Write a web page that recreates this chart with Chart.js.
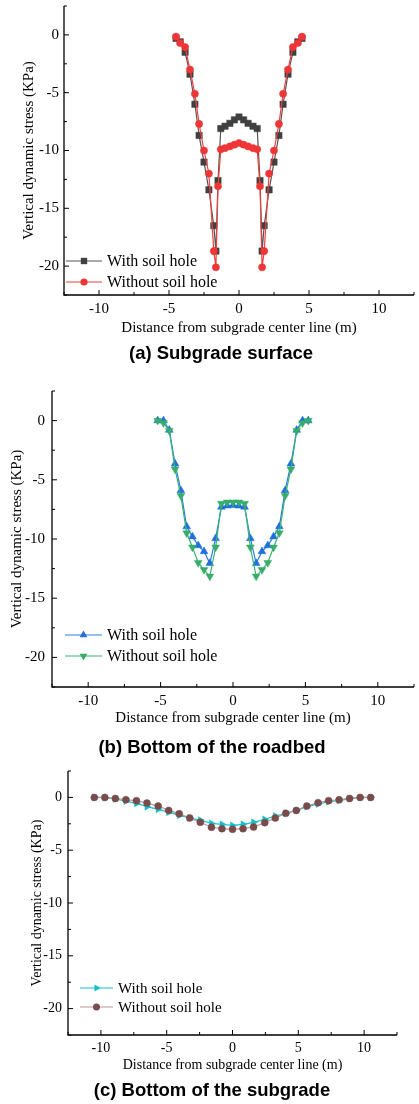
<!DOCTYPE html>
<html>
<head>
<meta charset="utf-8">
<script src="https://cdn.jsdelivr.net/npm/chart.js@4.4.1/dist/chart.umd.min.js"></script>
<style>
  html, body { margin: 0; padding: 0; background: #fff; }
  body { width: 419px; height: 1104px; position: relative; overflow: hidden; }
  canvas { position: absolute; left: 0; }
  .cap {
    position: absolute;
    font: bold 18.5px "Liberation Sans", Arial, sans-serif;
    color: #000;
    white-space: nowrap;
    transform: translate(-50%, -50%);
  }
</style>
</head>
<body>
<canvas id="chartA" width="419" height="345" style="top:0"></canvas>
<canvas id="chartB" width="419" height="360" style="top:370px"></canvas>
<canvas id="chartC" width="419" height="340" style="top:740px"></canvas>
<div class="cap" style="left:221px;top:353px">(a) Subgrade surface</div>
<div class="cap" style="left:212px;top:747px">(b) Bottom of the roadbed</div>
<div class="cap" style="left:212px;top:1090px">(c) Bottom of the subgrade</div>
<script>
// ---- data
const xTicks = [-10, -5, 0, 5, 10];
const xMinor = [-12.5, -7.5, -2.5, 2.5, 7.5, 12.5];
const yTicks = [0, -5, -10, -15, -20];
const yMinor = [2.5, -2.5, -7.5, -12.5, -17.5, -22.5];
const seriesNames = ["With soil hole", "Without soil hole"];
const xTitle = "Distance from subgrade center line (m)";
const yTitle = "Vertical dynamic stress (KPa)";

// (a) subgrade surface
const surfX = [-4.5, -4.2, -3.85, -3.5, -3.15, -2.85, -2.5, -2.15, -1.8, -1.65, -1.5, -1.3, -1.0, -0.65, -0.33, 0,
  0.33, 0.65, 1.0, 1.3, 1.5, 1.65, 1.8, 2.15, 2.5, 2.85, 3.15, 3.5, 3.85, 4.2, 4.5];
const surfWith = [-0.3, -0.6, -1.5, -3.4, -6.0, -8.7, -11.0, -13.4, -16.5, -18.7, -12.6, -8.1, -7.9, -7.65, -7.35, -7.1,
  -7.35, -7.65, -7.9, -8.1, -12.6, -18.7, -16.5, -13.4, -11.0, -8.7, -6.0, -3.4, -1.5, -0.6, -0.3];
const surfWithout = [-0.15, -0.7, -1.05, -3.0, -5.1, -7.7, -10.0, -12.0, -18.7, -20.1, -13.1, -9.9, -9.8, -9.65, -9.5, -9.35,
  -9.5, -9.65, -9.8, -9.9, -13.1, -20.1, -18.7, -12.0, -10.0, -7.7, -5.1, -3.0, -1.05, -0.7, -0.15];

// (b) bottom of the roadbed
const roadX = [-5.2, -4.8, -4.4, -4.0, -3.6, -3.2, -2.8, -2.4, -2.0, -1.6, -1.2, -0.8, -0.4, 0,
  0.4, 0.8, 1.2, 1.6, 2.0, 2.4, 2.8, 3.2, 3.6, 4.0, 4.4, 4.8, 5.2];
const roadWith = [0, 0, -0.8, -3.65, -5.9, -8.95, -9.8, -10.55, -11.05, -12.05, -9.95, -7.3, -7.2, -7.15,
  -7.2, -7.3, -9.95, -12.05, -11.05, -10.55, -9.8, -8.95, -5.9, -3.65, -0.8, 0, 0];
const roadWithout = [0, -0.2, -0.85, -4.1, -6.35, -9.5, -10.7, -12.0, -12.6, -13.15, -10.7, -7.0, -6.9, -6.9,
  -6.9, -7.0, -10.7, -13.15, -12.6, -12.0, -10.7, -9.5, -6.35, -4.1, -0.85, -0.2, 0];

// (c) bottom of the subgrade
const baseX = [-10.5, -9.7, -8.9, -8.1, -7.3, -6.5, -5.65, -4.85, -4.05, -3.25, -2.45, -1.6, -0.8, 0,
  0.8, 1.6, 2.45, 3.25, 4.05, 4.85, 5.65, 6.5, 7.3, 8.1, 8.9, 9.7, 10.5];
const baseWith = [0, -0.02, -0.15, -0.35, -0.57, -0.88, -1.13, -1.4, -1.7, -1.95, -2.15, -2.46, -2.55, -2.65,
  -2.55, -2.36, -2.08, -1.76, -1.5, -1.25, -0.88, -0.63, -0.41, -0.3, -0.12, -0.02, 0];
const baseWithout = [0, 0, -0.1, -0.22, -0.31, -0.54, -0.82, -1.23, -1.54, -1.95, -2.36, -2.83, -2.96, -3.02,
  -2.96, -2.8, -2.39, -1.95, -1.51, -1.23, -0.82, -0.5, -0.31, -0.22, -0.1, 0, 0];

const SERIF = '"Liberation Serif", "Times New Roman", serif';

function pts(xs, ys) {
  return xs.map((x, i) => ({ x: x, y: ys[i] }));
}

// axis lines + inward ticks (major and minor)
const framePlugin = {
  id: "frame",
  beforeDatasetsDraw(chart) {
    const { ctx, chartArea: a, scales } = chart;
    ctx.save();
    ctx.strokeStyle = "#000";
    ctx.lineWidth = 1.3;
    ctx.beginPath();
    ctx.moveTo(a.left, a.top);
    ctx.lineTo(a.left, a.bottom);
    ctx.lineTo(a.right, a.bottom);
    ctx.stroke();
    ctx.lineWidth = 1;
    ctx.beginPath();
    xTicks.forEach((v) => { const p = scales.x.getPixelForValue(v); ctx.moveTo(p, a.bottom); ctx.lineTo(p, a.bottom - 5); });
    xMinor.forEach((v) => { const p = scales.x.getPixelForValue(v); ctx.moveTo(p, a.bottom); ctx.lineTo(p, a.bottom - 3); });
    yTicks.forEach((v) => { const p = scales.y.getPixelForValue(v); ctx.moveTo(a.left, p); ctx.lineTo(a.left + 5, p); });
    yMinor.forEach((v) => { const p = scales.y.getPixelForValue(v); ctx.moveTo(a.left, p); ctx.lineTo(a.left + 3, p); });
    ctx.stroke();
    ctx.restore();
  },
};

function drawMarker(ctx, style, r, rot, x, y) {
  ctx.beginPath();
  if (style === "rect") {
    const s = Math.SQRT1_2 * r;
    ctx.rect(x - s, y - s, 2 * s, 2 * s);
  } else if (style === "triangle") {
    let rad = (rot * Math.PI) / 180;
    for (let k = 0; k < 3; k++) {
      const px = x + Math.sin(rad) * r, py = y - Math.cos(rad) * r;
      if (k === 0) ctx.moveTo(px, py); else ctx.lineTo(px, py);
      rad += (2 * Math.PI) / 3;
    }
    ctx.closePath();
  } else {
    ctx.arc(x, y, r, 0, Math.PI * 2);
  }
  ctx.fill();
}

// legend in the lower-left corner of the plot
const legendPlugin = {
  id: "boxLegend",
  afterDraw(chart, args, o) {
    const { ctx, chartArea: a } = chart;
    ctx.save();
    chart.data.datasets.forEach((ds, i) => {
      const y = a.bottom - o.rows[i];
      const x1 = a.left + o.line[0], x2 = a.left + o.line[1];
      ctx.strokeStyle = ds.borderColor;
      ctx.lineWidth = ds.borderWidth;
      ctx.beginPath();
      ctx.moveTo(x1, y);
      ctx.lineTo(x2, y);
      ctx.stroke();
      ctx.fillStyle = ds.pointBackgroundColor;
      drawMarker(ctx, ds.pointStyle, ds.pointRadius, ds.pointRotation || 0, (x1 + x2) / 2, y);
      ctx.fillStyle = "#000";
      ctx.font = o.size + "px " + SERIF;
      ctx.textBaseline = "middle";
      ctx.textAlign = "left";
      ctx.fillText(ds.label, a.left + o.textX, y + 1);
    });
    ctx.restore();
  },
};

function series(label, data, line, point, style, r, rot, order) {
  return {
    label: label,
    data: data,
    borderColor: line,
    borderWidth: 1.2,
    backgroundColor: point,
    pointBackgroundColor: point,
    pointBorderColor: point,
    pointBorderWidth: 0.5,
    pointStyle: style,
    pointRadius: r,
    pointRotation: rot,
    order: order,
    tension: 0,
  };
}

function makeChart(id, g, datasets) {
  const canvas = document.getElementById(id);
  const W = canvas.width, H = canvas.height;
  return new Chart(canvas.getContext("2d"), {
    type: "line",
    data: { datasets: datasets },
    plugins: [framePlugin, legendPlugin],
    options: {
      responsive: false,
      animation: false,
      events: [],
      layout: { padding: { left: 0, top: g.T, right: W - g.R, bottom: 0 } },
      plugins: {
        legend: { display: false },
        tooltip: { enabled: false },
        boxLegend: g.legend,
      },
      scales: {
        x: {
          type: "linear",
          min: -12.5,
          max: 12.5,
          afterBuildTicks: (s) => { s.ticks = xTicks.map((v) => ({ value: v })); },
          afterFit: (s) => { s.height = H - g.B; s.paddingLeft = 0; s.paddingRight = 0; },
          grid: { display: false, drawTicks: false },
          border: { display: false },
          ticks: { color: "#000", font: { family: SERIF, size: g.tick }, padding: g.xPad, maxRotation: 0, autoSkip: false },
          title: { display: true, text: xTitle, color: "#000", font: { family: SERIF, size: g.title }, padding: { top: 0, bottom: g.xTitlePad } },
        },
        y: {
          type: "linear",
          min: -22.5,
          max: 2.5,
          afterBuildTicks: (s) => { s.ticks = yTicks.map((v) => ({ value: v })); },
          afterFit: (s) => { s.width = g.L; s.paddingTop = 0; s.paddingBottom = 0; },
          grid: { display: false, drawTicks: false },
          border: { display: false },
          ticks: { color: "#000", font: { family: SERIF, size: g.tick }, padding: g.yPad, autoSkip: false },
          title: { display: true, text: yTitle, color: "#000", font: { family: SERIF, size: g.title }, padding: { top: g.yTitlePad, bottom: 0 } },
        },
      },
    },
  });
}

// ---- (a)
makeChart("chartA",
  { L: 64, T: 6, R: 419, B: 295, tick: 15, title: 15, xPad: 5, yPad: 5, xTitlePad: 8, yTitlePad: 20,
    legend: { rows: [34, 13], line: [2, 38], textX: 43, size: 16 } },
  [
    series(seriesNames[0], pts(surfX, surfWith), "#555555", "#404040", "rect", 4.5, 0, 1),
    series(seriesNames[1], pts(surfX, surfWithout), "#f04040", "#ee3636", "circle", 3.6, 0, 0),
  ]);

// ---- (b)
makeChart("chartB",
  { L: 52, T: 21, R: 419, B: 317, tick: 15, title: 15, xPad: 5, yPad: 7, xTitlePad: 3, yTitlePad: 8,
    legend: { rows: [52, 31], line: [13, 50], textX: 55, size: 16 } },
  [
    series(seriesNames[0], pts(roadX, roadWith), "#2a7de1", "#1f6fdc", "triangle", 4.5, 0, 1),
    series(seriesNames[1], pts(roadX, roadWithout), "#3cb371", "#36ad6a", "triangle", 4.5, 180, 0),
  ]);

// ---- (c)
makeChart("chartC",
  { L: 68, T: 31, R: 397, B: 295, tick: 14, title: 14, xPad: 5, yPad: 6, xTitlePad: 6, yTitlePad: 29,
    legend: { rows: [47, 28], line: [12, 45], textX: 50, size: 15 } },
  [
    series(seriesNames[0], pts(baseX, baseWith), "#16c6d0", "#10c0cc", "triangle", 4, 90, 1),
    series(seriesNames[1], pts(baseX, baseWithout), "#b39a9a", "#7b4b4b", "circle", 3.5, 0, 0),
  ]);
</script>
</body>
</html>
